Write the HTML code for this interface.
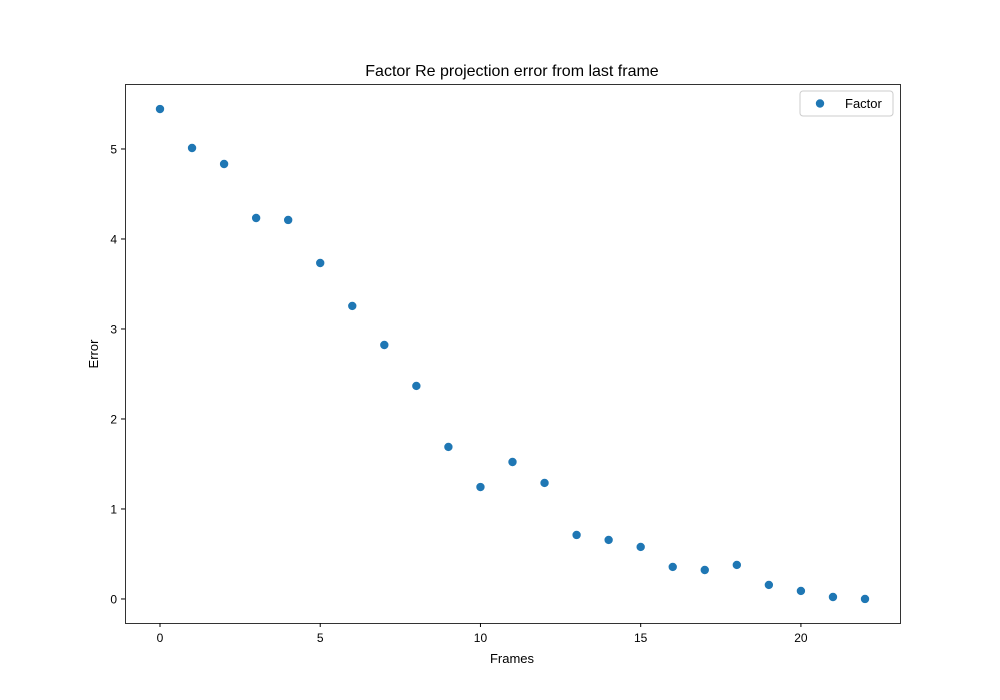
<!DOCTYPE html>
<html><head><meta charset="utf-8">
<style>
html,body{margin:0;padding:0;background:#fff;}
svg{display:block;font-family:"Liberation Sans","DejaVu Sans",sans-serif;}
</style></head>
<body>
<svg id="chart" width="1000" height="700" viewBox="0 0 1000 700">
<rect width="1000" height="700" fill="#fff"/>
<text x="512" y="76" text-anchor="middle" font-size="16">Factor Re projection error from last frame</text>
<g id="marks"></g>
<g id="xticks"></g>
<g id="yticks"></g>
<rect x="125.5" y="84.5" width="775" height="539" fill="none" stroke="#000" stroke-width="0.8"/>
<text x="512" y="663" text-anchor="middle" font-size="13">Frames</text>
<text transform="translate(98,354) rotate(-90)" text-anchor="middle" font-size="13">Error</text>
<g>
<rect x="800" y="91" width="93" height="25" rx="3" fill="#fff" stroke="#ccc"/>
<circle cx="820" cy="103.5" r="4.2" fill="#1f77b4"/>
<text x="845" y="108" font-size="13">Factor</text>
</g>
</svg>
<script>
const frames = [0,1,2,3,4,5,6,7,8,9,10,11,12,13,14,15,16,17,18,19,20,21,22];
const errors = [5.444,5.011,4.833,4.233,4.211,3.733,3.256,2.822,2.367,1.689,1.244,1.522,1.289,0.711,0.656,0.578,0.356,0.322,0.378,0.156,0.089,0.022,0.0];
const xTickValues = [0,5,10,15,20];
const yTickValues = [0,1,2,3,4,5];

const X0=125,X1=900,Y0=84,Y1=623;
const xMin=-1.092,xMax=23.092,yMin=-0.267,yMax=5.722;
function xs(v){return X0+(v-xMin)/(xMax-xMin)*(X1-X0);}
function ys(v){return Y1-(v-yMin)/(yMax-yMin)*(Y1-Y0);}
const NS="http://www.w3.org/2000/svg";
function mk(tag,attrs,parent){const e=document.createElementNS(NS,tag);for(const k in attrs)e.setAttribute(k,attrs[k]);parent.appendChild(e);return e;}

const marks=document.getElementById('marks');
frames.forEach((f,i)=>{
  const c=mk('circle',{cx:xs(f),cy:ys(errors[i]),r:4.2,fill:'#1f77b4'},marks);
  
  
});
const xg=document.getElementById('xticks');
xTickValues.forEach(v=>{
  const l=mk('line',{x1:xs(v),x2:xs(v),y1:Y1,y2:Y1+4,stroke:'#000'},xg);
  
  
  const t=mk('text',{x:xs(v),y:Y1+19,'text-anchor':'middle','font-size':'12'},xg);
  t.textContent=v;
  
  
});
const yg=document.getElementById('yticks');
yTickValues.forEach(v=>{
  const l=mk('line',{x1:X0-4,x2:X0,y1:ys(v),y2:ys(v),stroke:'#000'},yg);
  
  
  const t=mk('text',{x:X0-8,y:ys(v)+4.5,'text-anchor':'end','font-size':'12'},yg);
  t.textContent=v;
  
  
});
</script>
</body></html>
